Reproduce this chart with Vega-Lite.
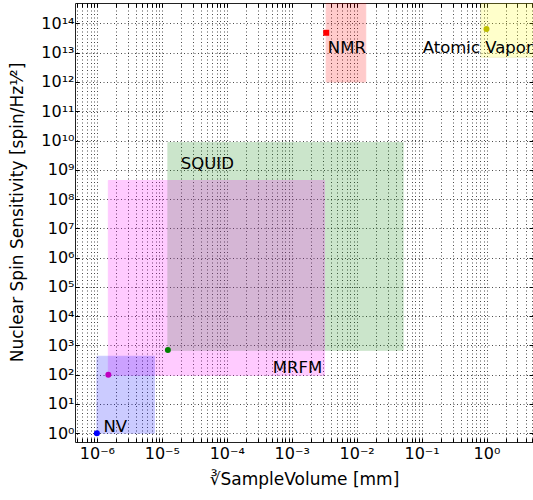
{
  "$schema": "https://vega.github.io/schema/vega-lite/v6.json",
  "width": 458,
  "height": 439,
  "autosize": {"type": "none"},
  "padding": {"left": 75, "top": 3, "right": 0, "bottom": 58},
  "config": {
    "font": "DejaVu Sans",
    "view": {"stroke": "#222", "strokeWidth": 1},
    "axis": {
      "domain": false,
      "grid": true,
      "gridColor": "#000",
      "gridDash": [1, 2.5],
      "gridOpacity": 0.7,
      "gridWidth": 1,
      "tickColor": "#000",
      "tickSize": -4,
      "labelFont": "DejaVu Sans",
      "labelFontSize": 16,
      "labelColor": "#000",
      "labelOverlap": false,
      "labelFlush": false,
      "titleFont": "DejaVu Sans",
      "titleFontSize": 17,
      "titleFontWeight": "normal",
      "titleColor": "#000"
    }
  },
  "datasets": {
    "regions": [
      {"name": "NMR", "x1": 0.0034, "x2": 0.0138, "y1": 1e12, "y2": 1e15},
      {"name": "Atomic Vapor", "x1": 0.82, "x2": 10, "y1": 7e12, "y2": 1e15},
      {"name": "SQUID", "x1": 1.24e-5, "x2": 0.052, "y1": 680, "y2": 8.5e9},
      {"name": "MRFM", "x1": 1.5e-6, "x2": 0.0032, "y1": 95, "y2": 4.3e8},
      {"name": "NV", "x1": 1e-6, "x2": 7.7e-6, "y1": 1, "y2": 425}
    ],
    "points": [
      {"name": "NMR", "x": 0.0034, "y": 4.8e13, "shape": "square"},
      {"name": "Atomic Vapor", "x": 1.0, "y": 6.5e13, "shape": "circle"},
      {"name": "SQUID", "x": 1.24e-5, "y": 700, "shape": "circle"},
      {"name": "MRFM", "x": 1.5e-6, "y": 100, "shape": "circle"},
      {"name": "NV", "x": 1e-6, "y": 1, "shape": "circle"}
    ],
    "labels": [
      {"name": "NMR", "x": 0.0036, "y": 1.5e13},
      {"name": "Atomic Vapor", "x": 0.104, "y": 1.5e13},
      {"name": "SQUID", "x": 1.96e-5, "y": 1.6e9},
      {"name": "MRFM", "x": 0.00051, "y": 166},
      {"name": "NV", "x": 1.26e-6, "y": 1.6}
    ]
  },
  "layer": [
    {
      "data": {"name": "regions"},
      "mark": {"type": "rect", "clip": true, "opacity": 0.2, "strokeWidth": 1},
      "encoding": {
        "x": {
          "field": "x1", "type": "quantitative",
          "scale": {"type": "log", "domain": [4.6e-7, 5.2], "nice": false},
          "axis": {
            "title": "∛SampleVolume [mm]",
            "titleX": 229, "titleY": 37, "titleBaseline": "middle",
            "labelPadding": 7,
            "values": [5e-7,6e-7,7e-7,8e-7,9e-7,1e-6,2e-6,3e-6,4e-6,5e-6,6e-6,7e-6,8e-6,9e-6,1e-5,2e-5,3e-5,4e-5,5e-5,6e-5,7e-5,8e-5,9e-5,1e-4,2e-4,3e-4,4e-4,5e-4,6e-4,7e-4,8e-4,9e-4,1e-3,2e-3,3e-3,4e-3,5e-3,6e-3,7e-3,8e-3,9e-3,1e-2,2e-2,3e-2,4e-2,5e-2,6e-2,7e-2,8e-2,9e-2,1e-1,2e-1,3e-1,4e-1,5e-1,6e-1,7e-1,8e-1,9e-1,1,2,3,4,5],
            "labelExpr": "abs(datum.value / pow(10, round(log(datum.value)/LN10)) - 1) < 0.001 ? '10' + (round(log(datum.value)/LN10) < 0 ? '⁻' : '') + substring('⁰¹²³⁴⁵⁶⁷⁸⁹', abs(round(log(datum.value)/LN10)) % 10, abs(round(log(datum.value)/LN10)) % 10 + 1) : ''"
          }
        },
        "x2": {"field": "x2"},
        "y": {
          "field": "y1", "type": "quantitative",
          "scale": {"type": "log", "domain": [0.5, 5e14], "nice": false},
          "axis": {
            "title": "Nuclear Spin Sensitivity [spin/Hz¹⁄²]",
            "titleX": -58, "titleY": 209, "titleBaseline": "middle", "titleAngle": 270,
            "labelPadding": 5,
            "values": [1,10,100,1000,1e4,1e5,1e6,1e7,1e8,1e9,1e10,1e11,1e12,1e13,1e14],
            "labelExpr": "'10' + (round(log(datum.value)/LN10) >= 10 ? substring('⁰¹²³⁴⁵⁶⁷⁸⁹', floor(round(log(datum.value)/LN10)/10), floor(round(log(datum.value)/LN10)/10) + 1) : '') + substring('⁰¹²³⁴⁵⁶⁷⁸⁹', round(log(datum.value)/LN10) % 10, round(log(datum.value)/LN10) % 10 + 1)"
          }
        },
        "y2": {"field": "y2"},
        "color": {
          "field": "name", "type": "nominal",
          "scale": {"domain": ["NMR", "Atomic Vapor", "SQUID", "MRFM", "NV"], "range": ["#ff0000", "#ffff00", "#008000", "#ff00ff", "#0000ff"]},
          "legend": null
        },
        "stroke": {
          "field": "name", "type": "nominal",
          "scale": {"domain": ["NMR", "Atomic Vapor", "SQUID", "MRFM", "NV"], "range": ["#ff0000", "#bfbf00", "#008000", "#ff00ff", "#0000ff"]},
          "legend": null
        }
      }
    },
    {
      "data": {"name": "points"},
      "mark": {"type": "point", "filled": true, "opacity": 1, "size": 36},
      "encoding": {
        "x": {"field": "x", "type": "quantitative", "axis": null},
        "y": {"field": "y", "type": "quantitative", "axis": null},
        "shape": {"field": "shape", "type": "nominal", "scale": {"domain": ["circle", "square"], "range": ["circle", "square"]}, "legend": null},
        "fill": {
          "field": "name", "type": "nominal",
          "scale": {"domain": ["NMR", "Atomic Vapor", "SQUID", "MRFM", "NV"], "range": ["#ff0000", "#bfbf00", "#008000", "#bf00bf", "#0000ff"]},
          "legend": null
        }
      }
    },
    {
      "data": {"name": "labels"},
      "mark": {"type": "text", "align": "left", "baseline": "middle", "fontSize": 16.5, "font": "DejaVu Sans", "color": "#000"},
      "encoding": {
        "x": {"field": "x", "type": "quantitative", "axis": null},
        "y": {"field": "y", "type": "quantitative", "axis": null},
        "text": {"field": "name"}
      }
    },
    {
      "data": {"name": "points"},
      "mark": {"type": "point", "opacity": 0},
      "encoding": {
        "x": {"field": "x", "type": "quantitative",
          "axis": {"orient": "top", "labels": false, "grid": false, "title": null,
            "values": [5e-7,6e-7,7e-7,8e-7,9e-7,1e-6,2e-6,3e-6,4e-6,5e-6,6e-6,7e-6,8e-6,9e-6,1e-5,2e-5,3e-5,4e-5,5e-5,6e-5,7e-5,8e-5,9e-5,1e-4,2e-4,3e-4,4e-4,5e-4,6e-4,7e-4,8e-4,9e-4,1e-3,2e-3,3e-3,4e-3,5e-3,6e-3,7e-3,8e-3,9e-3,1e-2,2e-2,3e-2,4e-2,5e-2,6e-2,7e-2,8e-2,9e-2,1e-1,2e-1,3e-1,4e-1,5e-1,6e-1,7e-1,8e-1,9e-1,1,2,3,4,5]}},
        "y": {"field": "y", "type": "quantitative",
          "axis": {"orient": "right", "labels": false, "grid": false, "title": null,
            "values": [1,10,100,1000,1e4,1e5,1e6,1e7,1e8,1e9,1e10,1e11,1e12,1e13,1e14]}}
      }
    }
  ],
  "resolve": {"axis": {"x": "independent", "y": "independent"}}
}
